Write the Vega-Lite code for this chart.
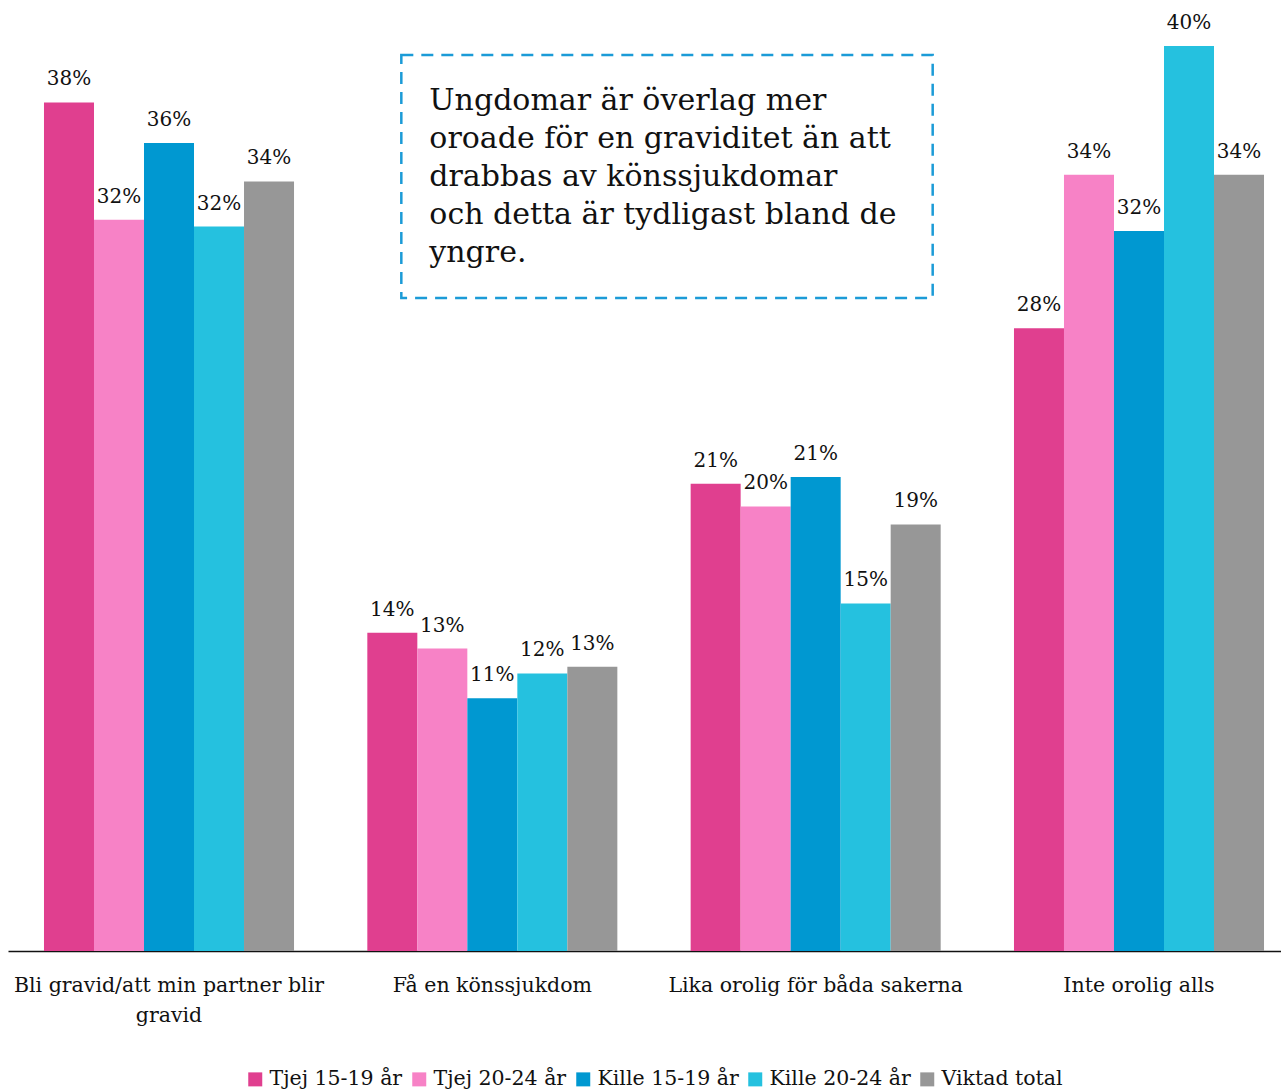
{
  "$schema": "https://vega.github.io/schema/vega-lite/v6.json",
  "width": 1292,
  "height": 951,
  "padding": {"left": 8, "top": 0, "right": 0, "bottom": 0},
  "autosize": {"type": "pad"},
  "background": "white",
  "config": {
    "font": "DejaVu Serif",
    "view": {"stroke": null},
    "legend": {"layout": {"bottom": {"anchor": "middle"}}}
  },
  "datasets": {
    "svar": [
      {"kategori": "Bli gravid/att min partner blir gravid", "grupp": "Tjej 15-19 år", "andel": 37.6},
      {"kategori": "Bli gravid/att min partner blir gravid", "grupp": "Tjej 20-24 år", "andel": 32.4},
      {"kategori": "Bli gravid/att min partner blir gravid", "grupp": "Kille 15-19 år", "andel": 35.8},
      {"kategori": "Bli gravid/att min partner blir gravid", "grupp": "Kille 20-24 år", "andel": 32.1},
      {"kategori": "Bli gravid/att min partner blir gravid", "grupp": "Viktad total", "andel": 34.1},
      {"kategori": "Få en könssjukdom", "grupp": "Tjej 15-19 år", "andel": 14.1},
      {"kategori": "Få en könssjukdom", "grupp": "Tjej 20-24 år", "andel": 13.4},
      {"kategori": "Få en könssjukdom", "grupp": "Kille 15-19 år", "andel": 11.2},
      {"kategori": "Få en könssjukdom", "grupp": "Kille 20-24 år", "andel": 12.3},
      {"kategori": "Få en könssjukdom", "grupp": "Viktad total", "andel": 12.6},
      {"kategori": "Lika orolig för båda sakerna", "grupp": "Tjej 15-19 år", "andel": 20.7},
      {"kategori": "Lika orolig för båda sakerna", "grupp": "Tjej 20-24 år", "andel": 19.7},
      {"kategori": "Lika orolig för båda sakerna", "grupp": "Kille 15-19 år", "andel": 21.0},
      {"kategori": "Lika orolig för båda sakerna", "grupp": "Kille 20-24 år", "andel": 15.4},
      {"kategori": "Lika orolig för båda sakerna", "grupp": "Viktad total", "andel": 18.9},
      {"kategori": "Inte orolig alls", "grupp": "Tjej 15-19 år", "andel": 27.6},
      {"kategori": "Inte orolig alls", "grupp": "Tjej 20-24 år", "andel": 34.4},
      {"kategori": "Inte orolig alls", "grupp": "Kille 15-19 år", "andel": 31.9},
      {"kategori": "Inte orolig alls", "grupp": "Kille 20-24 år", "andel": 40.1},
      {"kategori": "Inte orolig alls", "grupp": "Viktad total", "andel": 34.4}
    ],
    "notis": [
      {"kategori": "Få en könssjukdom", "slut": "Lika orolig för båda sakerna"}
    ]
  },
  "layer": [
    {
      "data": {"name": "svar"},
      "mark": {"type": "bar"},
      "encoding": {
        "x": {
          "field": "kategori",
          "type": "nominal",
          "sort": ["Bli gravid/att min partner blir gravid", "Få en könssjukdom", "Lika orolig för båda sakerna", "Inte orolig alls"],
          "scale": {
            "domain": ["Bli gravid/att min partner blir gravid", "Få en könssjukdom", "Lika orolig för båda sakerna", "Inte orolig alls"],
            "paddingInner": 0.2267, "paddingOuter": 0.1113
          },
          "axis": {
            "title": null,
            "labelAngle": 0,
            "ticks": false,
            "tickSize": 0,
            "labelPadding": 24,
            "labelFontSize": 20.5,
            "labelFont": "DejaVu Serif",
            "labelColor": "#111111",
            "labelLineHeight": 30,
            "labelLimit": 0,
            "domainColor": "#111111",
            "domainWidth": 1.5,
            "labelExpr": "datum.label == 'Bli gravid/att min partner blir gravid' ? ['Bli gravid/att min partner blir', 'gravid'] : datum.label"
          }
        },
        "y": {
          "field": "andel",
          "type": "quantitative",
          "scale": {"domain": [0, 42.14], "nice": false, "zero": true},
          "axis": null
        },
        "xOffset": {
          "field": "grupp",
          "type": "nominal",
          "sort": ["Tjej 15-19 år", "Tjej 20-24 år", "Kille 15-19 år", "Kille 20-24 år", "Viktad total"],
          "scale": {"paddingInner": 0, "paddingOuter": 0}
        },
        "color": {
          "field": "grupp",
          "type": "nominal",
          "scale": {
            "domain": ["Tjej 15-19 år", "Tjej 20-24 år", "Kille 15-19 år", "Kille 20-24 år", "Viktad total"],
            "range": ["#E03F8F", "#F782C6", "#0098D1", "#25C1DF", "#979797"]
          },
          "legend": {
            "title": null,
            "orient": "bottom",
            "direction": "horizontal",
            "symbolType": "square",
            "symbolSize": 196,
            "symbolStrokeWidth": 0,
            "labelFont": "DejaVu Serif",
            "labelFontSize": 20.5,
            "labelColor": "#111111",
            "columnPadding": 6,
            "labelOffset": 4,
            "offset": 43
          }
        }
      }
    },
    {
      "data": {"name": "svar"},
      "mark": {"type": "text", "baseline": "alphabetic", "dy": -17, "fontSize": 20, "color": "#111111", "text": {"expr": "format(datum.andel, '.0f') + '%'"}},
      "encoding": {
        "x": {
          "field": "kategori",
          "type": "nominal",
          "sort": ["Bli gravid/att min partner blir gravid", "Få en könssjukdom", "Lika orolig för båda sakerna", "Inte orolig alls"]
        },
        "y": {"field": "andel", "type": "quantitative"},
        "xOffset": {
          "field": "grupp",
          "type": "nominal",
          "sort": ["Tjej 15-19 år", "Tjej 20-24 år", "Kille 15-19 år", "Kille 20-24 år", "Viktad total"]
        }
      }
    },
    {
      "data": {"name": "notis"},
      "mark": {"type": "rect", "fill": "white", "fillOpacity": 0, "stroke": "#1B9BD7", "strokeWidth": 2.5, "strokeDash": [12, 8]},
      "encoding": {
        "x": {
          "field": "kategori", "type": "nominal", "bandPosition": 0.136,
          "sort": ["Bli gravid/att min partner blir gravid", "Få en könssjukdom", "Lika orolig för båda sakerna", "Inte orolig alls"]
        },
        "x2": {"field": "slut", "bandPosition": 0.968},
        "y": {"datum": 39.7, "type": "quantitative"},
        "y2": {"datum": 28.93}
      }
    },
    {
      "data": {"name": "notis"},
      "mark": {"type": "text", "align": "left", "baseline": "alphabetic", "fontSize": 30, "lineHeight": 38, "color": "#111111",
        "text": ["Ungdomar är överlag mer", "oroade för en graviditet än att", "drabbas av könssjukdomar", "och detta är tydligast bland de", "yngre."]},
      "encoding": {
        "x": {
          "field": "kategori", "type": "nominal", "bandPosition": 0.248,
          "sort": ["Bli gravid/att min partner blir gravid", "Få en könssjukdom", "Lika orolig för båda sakerna", "Inte orolig alls"]
        },
        "y": {"datum": 37.27, "type": "quantitative"}
      }
    }
  ]
}
